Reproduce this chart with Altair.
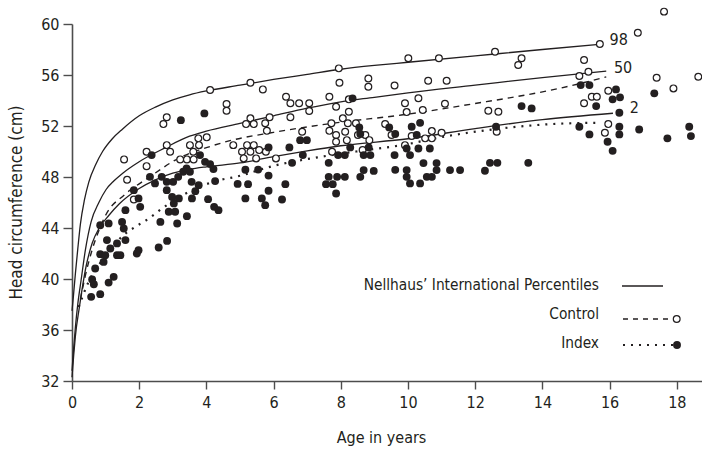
import altair as alt
import pandas as pd

FONT = "Liberation Sans Narrow, DejaVu Sans Condensed, sans-serif"
INK = "#231f20"

# ---------------- data ----------------
ctrl_age = [4.11, 4.60, 4.60, 2.82, 2.72, 3.76, 4.01, 3.51, 3.78, 4.80, 2.82, 2.92, 2.22, 1.55, 2.22, 1.64, 1.84,
            3.22, 3.42, 3.62, 3.61,
            7.94, 5.31, 5.68, 7.96, 8.82, 8.82, 9.60, 6.37, 6.50, 6.76, 7.06, 7.06, 7.66, 7.86, 8.24, 8.24, 8.06,
            8.21, 6.50, 5.88, 5.75, 5.80, 5.31, 5.18, 5.41, 6.85, 7.72, 7.66, 7.86, 8.13, 7.86, 8.18, 8.45, 8.51,
            8.73, 8.85, 9.32, 5.21, 5.41, 5.06, 5.31, 5.57, 5.11, 5.48, 5.77, 6.07, 7.74, 8.65,
            10.01, 10.92, 10.60, 11.15, 10.31, 9.91, 9.96, 10.44, 11.10, 9.51, 10.11, 10.51, 10.71, 10.71, 11.00,
            9.91, 12.59, 13.38, 13.28, 12.39, 12.69, 12.64,
            17.62, 16.84, 15.71, 15.24, 15.37, 15.10, 17.40, 18.64, 17.90, 15.96, 15.47, 15.62, 15.24, 15.96, 15.86]
ctrl_hc = [54.82, 53.72, 53.19, 52.68, 52.15, 51.03, 51.11, 50.50, 50.50, 50.50, 50.50, 49.98, 49.98, 49.38, 48.85,
           47.79, 46.24, 49.38, 49.38, 49.38, 49.98,
           56.52, 55.39, 54.87, 55.39, 55.72, 55.08, 55.17, 54.29, 53.78, 53.78, 53.78, 53.17, 54.29, 53.51, 54.09,
           53.12, 52.60, 52.21, 52.68, 52.68, 52.21, 51.62, 52.60, 52.15, 52.15, 51.55, 52.21, 51.62, 51.29, 51.55,
           50.76, 50.89, 52.21, 51.29, 51.29, 50.89, 52.15, 50.50, 50.50, 49.98, 49.98, 50.11, 49.46, 49.46, 49.98,
           49.46, 49.98, 50.11,
           57.31, 57.31, 55.55, 55.55, 54.17, 53.78, 53.09, 53.25, 53.74, 51.29, 51.21, 51.03, 51.60, 51.03, 51.47,
           50.50, 57.83, 57.31, 56.78, 53.20, 53.12, 51.55,
           60.97, 59.32, 58.43, 57.17, 56.26, 55.92, 55.79, 55.86, 54.95, 54.76, 54.29, 54.29, 53.78, 52.15, 51.47]

idx_age = [3.24, 3.94, 2.37, 3.81, 3.96, 4.11, 4.21, 2.32, 2.47, 2.67, 2.82, 3.01, 3.16, 3.31, 3.41, 3.51, 3.56,
           2.82, 4.26, 4.93, 3.77, 3.67, 1.84, 1.98, 2.03, 1.59, 2.98, 3.18, 3.03, 2.88, 3.07, 3.42, 3.57, 4.05,
           4.23, 4.36, 2.63, 3.13,
           0.84, 1.09, 1.49, 1.54, 1.04, 1.34, 1.59, 1.14, 0.84, 0.99, 0.94, 1.34, 1.44, 1.98, 1.93, 2.58, 2.83,
           0.69, 0.60, 0.65, 1.09, 1.24, 0.57, 0.84,
           8.35, 8.55, 8.58, 9.44, 9.62, 6.79, 6.99, 5.85, 6.47, 6.87, 8.28, 8.68, 8.83, 7.92, 8.12, 8.88, 9.60,
           7.64, 6.55, 5.16, 5.54, 5.85, 7.64, 7.89, 8.12, 8.58, 8.68, 8.98, 9.62, 5.24, 6.35, 5.16, 5.65, 5.85,
           5.75, 6.25, 7.56, 7.76, 7.86,
           10.11, 10.36, 10.26, 9.96, 10.31, 10.65, 10.06, 10.46, 10.85, 9.96, 10.85, 11.25, 11.55, 9.96, 10.56,
           10.71, 10.06, 10.36, 13.38, 13.68, 12.62, 12.44, 12.66, 12.29, 13.58,
           15.14, 15.40, 16.19, 16.09, 16.31, 15.60, 16.29, 17.33, 15.10, 15.40, 16.29, 16.29, 16.88, 15.94, 16.09,
           17.72, 18.37, 18.42]
idx_hc = [52.46, 52.99, 49.72, 49.72, 49.19, 49.01, 48.62, 48.01, 47.50, 48.01, 47.62, 47.62, 48.01, 48.41, 48.67,
          48.41, 47.62, 46.97, 47.68, 47.46, 47.36, 46.89, 46.97, 46.32, 45.66, 45.40, 46.44, 46.32, 45.93, 45.27,
          45.27, 44.93, 46.32, 46.26, 45.66, 45.40, 44.48, 44.35,
          44.22, 44.36, 44.48, 43.96, 43.05, 42.79, 43.05, 42.39, 41.95, 41.87, 41.34, 41.87, 41.87, 42.26, 42.00,
          42.47, 42.99, 40.82, 39.96, 39.59, 39.72, 40.17, 38.60, 38.81,
          54.17, 51.89, 51.37, 51.89, 51.37, 50.89, 50.89, 50.32, 50.32, 49.72, 50.32, 49.72, 50.32, 49.72, 49.72,
          49.72, 49.72, 49.11, 49.11, 48.57, 48.58, 48.11, 48.01, 48.01, 48.01, 48.01, 48.54, 48.48, 48.56, 47.44,
          47.44, 46.32, 46.32, 46.92, 45.79, 46.24, 47.44, 47.44, 46.71,
          51.94, 52.25, 51.29, 50.24, 50.24, 50.24, 49.72, 49.09, 49.09, 48.54, 48.54, 48.54, 48.54, 48.01, 48.01,
          48.01, 47.50, 47.50, 53.56, 53.38, 51.94, 49.11, 49.11, 48.49, 49.11,
          55.21, 55.21, 54.87, 54.09, 54.25, 53.56, 53.04, 54.56, 51.94, 51.34, 51.94, 51.34, 51.73, 50.76, 50.05,
          51.03, 51.94, 51.21]

# Nellhaus percentile curves
p98_age = [0, 0.04, 0.1, 0.17, 0.25, 0.37, 0.5, 0.71, 0.91, 1.2, 1.5, 2.0, 2.5, 3.0, 3.5, 4.0, 5.0, 6.0, 7.0,
           8.0, 9.0, 10.0, 12.0, 14.0, 15.8]
p98_hc = [37.5, 38.6, 40.4, 42.3, 44.3, 46.2, 47.6, 49.0, 50.0, 51.0, 51.75, 52.8, 53.5, 54.05, 54.45, 54.75, 55.2,
          55.65, 56.05, 56.45, 56.75, 57.0, 57.5, 58.0, 58.43]
p50_age = [0, 0.05, 0.1, 0.18, 0.27, 0.4, 0.57, 0.8, 1.01, 1.25, 1.51, 2.0, 2.78, 3.5, 4.0, 5.0, 6.0, 7.0, 8.0,
           9.0, 10.0, 12.0, 14.0, 15.9]
p50_hc = [32.8, 34.6, 36.2, 38.2, 39.9, 42.3, 44.5, 46.0, 47.0, 47.7, 48.3, 49.2, 50.3, 51.2, 51.6, 52.2, 52.8,
          53.4, 53.9, 54.25, 54.6, 55.2, 55.8, 56.3]
p2_age = [0, 0.05, 0.1, 0.22, 0.42, 0.6, 0.81, 1.1, 1.41, 2.0, 2.5, 3.0, 3.5, 4.0, 5.0, 6.0, 7.0, 8.0, 10.0,
          12.0, 14.0, 16.1]
p2_hc = [32.3, 34.0, 35.5, 37.8, 41.0, 42.8, 44.0, 45.0, 45.9, 47.1, 47.8, 48.3, 48.6, 48.8, 49.1, 49.6, 50.05,
         50.45, 51.0, 51.8, 52.5, 53.0]

# group means
ctrl_line_age = [0.25, 0.4, 0.6, 0.8, 1.0, 1.56, 2.25, 3.27, 4.0, 4.7, 6.0, 8.0, 9.8, 11.85, 14.5, 15.9]
ctrl_line_hc = [38.4, 40.3, 42.3, 43.8, 45.0, 46.6, 47.9, 49.6, 50.3, 50.85, 51.5, 52.3, 52.86, 53.7, 54.95, 55.85]
idx_line_age = [0.2, 0.48, 1.0, 1.4, 1.95, 2.15, 2.35, 2.77, 4.37, 4.85, 6.04, 7.44, 8.72, 9.82, 11.04, 12.74,
                14.67, 15.6]
idx_line_hc = [37.8, 39.7, 41.8, 43.1, 44.2, 44.5, 44.87, 45.7, 47.75, 48.0, 48.9, 49.6, 50.1, 50.5, 51.15, 51.8,
               52.2, 52.25]

curve_labels = ["98", "50", "2"]
curve_label_age = [16.0, 16.13, 16.6]
curve_label_hc = [58.74, 56.55, 53.4]

legend_labels = ["Nellhaus’ International Percentiles", "Control", "Index"]

x_ticks = [0, 2, 4, 6, 8, 10, 12, 14, 16, 18]
y_ticks = [32, 36, 40, 44, 48, 52, 56, 60]

# ---------------- tables ----------------
ctrl = pd.DataFrame({"age": ctrl_age, "hc": ctrl_hc})
idx = pd.DataFrame({"age": idx_age, "hc": idx_hc})
curves = pd.concat([
    pd.DataFrame({"age": p98_age, "hc": p98_hc, "curve": "98"}),
    pd.DataFrame({"age": p50_age, "hc": p50_hc, "curve": "50"}),
    pd.DataFrame({"age": p2_age, "hc": p2_hc, "curve": "2"}),
])
ctrl_line = pd.DataFrame({"age": ctrl_line_age, "hc": ctrl_line_hc})
idx_line = pd.DataFrame({"age": idx_line_age, "hc": idx_line_hc})
labels = pd.DataFrame({"label": curve_labels, "age": curve_label_age, "hc": curve_label_hc})
one = pd.DataFrame({"k": [0]})

xs = alt.Scale(domain=[0, 18.75], nice=False, zero=False)
ys = alt.Scale(domain=[32, 60], nice=False, zero=False)

x_axis = alt.Axis(values=x_ticks, title="Age in years", grid=False, tickSize=8, labelPadding=5,
                  labelFontSize=16, titleFontSize=16, titleFontWeight="normal", titleY=61,
                  titleBaseline="alphabetic", titleX=309, labelFlush=False)
y_axis = alt.Axis(values=y_ticks, title="Head circumference (cm)", grid=False, tickSize=9, labelPadding=4,
                  labelFontSize=16, titleFontSize=17, titleFontWeight="normal", titleAngle=-90,
                  titleX=-56, titleY=178, titleBaseline="middle", titleAlign="center", labelFlush=False)

X = alt.X("age:Q", scale=xs, axis=x_axis)
Y = alt.Y("hc:Q", scale=ys, axis=y_axis)
Xn = alt.X("age:Q", scale=xs)
Yn = alt.Y("hc:Q", scale=ys)

curve_layer = alt.Chart(curves).mark_line(color=INK, strokeWidth=1.3, interpolate="monotone").encode(
    x=X, y=Y, detail="curve:N", order="age:Q")
ctrl_line_layer = alt.Chart(ctrl_line).mark_line(color=INK, strokeWidth=1.4, strokeDash=[6, 5],
                                                 interpolate="monotone").encode(x=Xn, y=Yn, order="age:Q")
idx_line_layer = alt.Chart(idx_line).mark_line(color=INK, strokeWidth=2.2, strokeDash=[2, 6],
                                               interpolate="monotone").encode(x=Xn, y=Yn, order="age:Q")
ctrl_pts = alt.Chart(ctrl).mark_point(shape="circle", filled=False, fill="white", fillOpacity=1,
                                      stroke=INK, strokeWidth=1.2, size=46, opacity=1).encode(x=Xn, y=Yn)
idx_pts = alt.Chart(idx).mark_circle(color=INK, size=62, opacity=1).encode(x=Xn, y=Yn)
label_layer = alt.Chart(labels).mark_text(font=FONT, fontSize=16, align="left", baseline="middle",
                                          color=INK).encode(x=Xn, y=Yn, text="label:N")

# legend (drawn in the plot's own pixel space)
def leg_text(t, py):
    return alt.Chart(one).mark_text(font=FONT, fontSize=15.3, align="right", baseline="middle",
                                    color=INK, text=t).encode(x=alt.value(527), y=alt.value(py))

leg_t1 = leg_text(legend_labels[0], 261)
leg_t2 = leg_text(legend_labels[1], 290)
leg_t3 = leg_text(legend_labels[2], 319)
leg_solid = alt.Chart(one).mark_rule(color=INK, strokeWidth=1.3).encode(
    x=alt.value(550), x2=alt.value(591), y=alt.value(262))
leg_dash = alt.Chart(one).mark_rule(color=INK, strokeWidth=1.3, strokeDash=[5, 5]).encode(
    x=alt.value(551), x2=alt.value(599), y=alt.value(295))
leg_dot = alt.Chart(one).mark_rule(color=INK, strokeWidth=2.2, strokeDash=[2, 6]).encode(
    x=alt.value(551), x2=alt.value(601), y=alt.value(321))
leg_open = alt.Chart(one).mark_point(shape="circle", filled=False, fill="white", fillOpacity=1, stroke=INK,
                                     strokeWidth=1.2, size=46, opacity=1).encode(
    x=alt.value(604.7), y=alt.value(295))
leg_fill = alt.Chart(one).mark_circle(color=INK, size=62, opacity=1).encode(
    x=alt.value(605), y=alt.value(321))

chart = alt.layer(
    curve_layer, ctrl_line_layer, idx_line_layer, ctrl_pts, idx_pts, label_layer,
    leg_t1, leg_t2, leg_t3, leg_solid, leg_dash, leg_dot, leg_open, leg_fill
).properties(
    width=630, height=357,
    autosize=alt.AutoSizeParams(type="none"),
    padding={"left": 72, "top": 24, "right": 0, "bottom": 71},
    background="white",
).configure_view(stroke=None).configure_axis(
    domainColor="#4d4d4d", domainWidth=1.6, tickColor="#4d4d4d", tickWidth=1.4,
    labelColor=INK, titleColor=INK, labelFont=FONT, titleFont=FONT,
)

chart.save("out.html", embed_options={"renderer": "svg", "actions": False})
